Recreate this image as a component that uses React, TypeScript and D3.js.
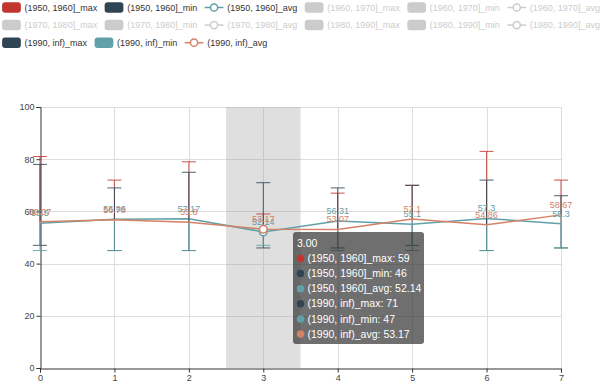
import React, { useEffect, useRef } from "react";
import * as d3 from "d3";

// x categories and y ticks
const categories = [0, 1, 2, 3, 4, 5, 6, 7];
const yTicks = [0, 20, 40, 60, 80, 100];

// legend groups (only two are switched on)
const groups = ["(1950, 1960]", "(1960, 1970]", "(1970, 1980]", "(1980, 1990]", "(1990, inf)"];
const activeGroups = ["(1950, 1960]", "(1990, inf)"];

// (1950, 1960]
const max1950 = [81, 72, 79, 59, 67, 70, 83, 72];
const min1950 = [47, 45, 45, 46, 46, 47, 45, 46];
const avg1950 = [55.5, 56.96, 57.17, 52.14, 56.31, 55.1, 57.3, 55.3];
// (1990, inf)
const max1990 = [78, 69, 75, 71, 69, 70, 72, 66];
const min1990 = [45, 45, 45, 47, 45, 45, 45, 46];
const avg1990 = [56.07, 56.78, 55.8, 53.17, 53.07, 57.1, 54.86, 58.67];

const hoverIndex = 3;

const palette = ["#c23531", "#2f4554", "#61a0a8", "#d48265", "#91c7ae", "#749f83", "#ca8622", "#bda29a", "#6e7074", "#546570", "#c4ccd3"];

const W = 602;
const H = 388;
const FONT = "'Liberation Sans', Arial, sans-serif";

function App() {
    const svgRef = useRef(null);

    useEffect(() => {
        const svg = d3.select(svgRef.current);
        svg.selectAll("*").remove();

        // series list like the chart lib would build it
        const values = {
            "(1950, 1960]": { max: max1950, min: min1950, avg: avg1950 },
            "(1990, inf)": { max: max1990, min: min1990, avg: avg1990 },
        };
        const series = [];
        groups.forEach((g, gi) => {
            ["max", "min", "avg"].forEach((k, ki) => {
                series.push({
                    name: g + "_" + k,
                    kind: k,
                    group: g,
                    color: palette[(gi * 3 + ki) % palette.length],
                    active: activeGroups.includes(g),
                    data: values[g] ? values[g][k] : null,
                });
            });
        });

        // ---- legend
        const canvas = document.createElement("canvas");
        const ctx = canvas.getContext("2d");
        ctx.font = "9px " + FONT;
        const iconW = 18.75, iconH = 10.5, gap = 7.5, pad = 3.75;
        const maxW = W - 2;
        const rows = [[]];
        let rowW = 0;
        series.forEach((s) => {
            const w = iconW + pad + ctx.measureText(s.name).width;
            const extra = rows[rows.length - 1].length ? gap + w : w;
            if (rowW + extra > maxW && rows[rows.length - 1].length) {
                rows.push([]);
                rowW = w;
            } else {
                rowW += extra;
            }
            rows[rows.length - 1].push({ s, w });
        });
        const rowWidths = rows.map((r) => d3.sum(r, (d) => d.w) + gap * (r.length - 1));
        const legendX = Math.max(2, (W - d3.max(rowWidths)) / 2);
        const legend = svg.append("g");
        rows.forEach((r, ri) => {
            let x = legendX;
            const cy = 7.5 + ri * 17.6;
            r.forEach(({ s, w }) => {
                const c = s.active ? s.color : "#ccc";
                if (s.kind == "avg") {
                    legend.append("line")
                        .attr("x1", x).attr("x2", x + iconW)
                        .attr("y1", cy).attr("y2", cy)
                        .attr("stroke", c).attr("stroke-width", 1.5);
                    legend.append("circle")
                        .attr("cx", x + iconW / 2).attr("cy", cy).attr("r", 3.6)
                        .attr("fill", "#fff").attr("stroke", c).attr("stroke-width", 1.5);
                } else {
                    legend.append("rect")
                        .attr("x", x).attr("y", cy - iconH / 2)
                        .attr("width", iconW).attr("height", iconH)
                        .attr("rx", 3).attr("fill", c);
                }
                legend.append("text")
                    .attr("x", x + iconW + pad).attr("y", cy)
                    .attr("dy", "0.35em")
                    .attr("font-size", 9).attr("font-family", FONT)
                    .attr("fill", s.active ? "#333" : "#ccc")
                    .text(s.name);
                x += w + gap;
            });
        });

        // ---- scales
        const xScale = d3.scalePoint().domain(categories).range([40, 561]);
        const yScale = d3.scaleLinear().domain([0, 100]).range([368, 107]);
        const step = xScale.step();

        // grid
        svg.append("g").selectAll("line.h")
            .data(yTicks.filter((t) => t != 0))
            .join("line")
            .attr("x1", 40).attr("x2", 561)
            .attr("y1", (t) => Math.round(yScale(t)) + 0.5).attr("y2", (t) => Math.round(yScale(t)) + 0.5)
            .attr("stroke", "#ddd");
        svg.append("g").selectAll("line.v")
            .data(categories.filter((c) => c != 0))
            .join("line")
            .attr("x1", (c) => Math.round(xScale(c)) + 0.5).attr("x2", (c) => Math.round(xScale(c)) + 0.5)
            .attr("y1", 107).attr("y2", 368)
            .attr("stroke", "#ddd");

        // axis pointer shadow
        svg.append("rect")
            .attr("x", xScale(categories[hoverIndex]) - step / 2)
            .attr("y", 107)
            .attr("width", step)
            .attr("height", 368 - 107)
            .attr("fill", "rgba(150,150,150,0.3)");

        // axes
        const yAxis = d3.axisLeft(yScale).tickValues(yTicks).tickSize(4).tickPadding(2);
        const gy = svg.append("g").attr("transform", "translate(40.5,0)").call(yAxis);
        const xAxis = d3.axisBottom(xScale).tickSize(4).tickPadding(2);
        const gx = svg.append("g").attr("transform", "translate(0,368.5)").call(xAxis);
        [gx, gy].forEach((g) => {
            g.select(".domain").attr("stroke", "#333");
            g.selectAll(".tick line").attr("stroke", "#333");
            g.selectAll(".tick text").attr("fill", "#444").attr("font-size", 9).attr("font-family", FONT);
        });

        // error bars: line from the group's avg to the value, with a cap
        const shown = series.filter((s) => s.active && s.data);
        const avgOf = (g) => shown.find((s) => s.group == g && s.kind == "avg").data;
        shown.forEach((s) => {
            if (s.kind == "avg") {
                const line = d3.line()
                    .x((d, i) => xScale(categories[i]))
                    .y((d) => yScale(d));
                svg.append("path")
                    .datum(s.data)
                    .attr("d", line)
                    .attr("fill", "none")
                    .attr("stroke", s.color)
                    .attr("stroke-width", 1.5);
                return;
            }
            const avg = avgOf(s.group);
            const g = svg.append("g").attr("stroke", s.color).attr("stroke-width", 1).attr("opacity", 0.85);
            g.selectAll("line.stem")
                .data(s.data)
                .join("line")
                .attr("x1", (d, i) => xScale(categories[i])).attr("x2", (d, i) => xScale(categories[i]))
                .attr("y1", (d, i) => yScale(avg[i])).attr("y2", (d) => yScale(d));
            g.selectAll("line.cap")
                .data(s.data)
                .join("line")
                .attr("x1", (d, i) => xScale(categories[i]) - 7).attr("x2", (d, i) => xScale(categories[i]) + 7)
                .attr("y1", (d) => yScale(d)).attr("y2", (d) => yScale(d));
        });

        // hover symbols and labels
        const avgSeries = shown.filter((s) => s.kind == "avg");
        avgSeries.forEach((s) => {
            svg.append("circle")
                .attr("cx", xScale(categories[hoverIndex]))
                .attr("cy", yScale(s.data[hoverIndex]))
                .attr("r", 3.8)
                .attr("fill", "#fff")
                .attr("stroke", s.color)
                .attr("stroke-width", 1.5);
        });
        avgSeries.forEach((s) => {
            svg.append("g").selectAll("text")
                .data(s.data)
                .join("text")
                .attr("x", (d, i) => xScale(categories[i]))
                .attr("y", (d) => yScale(d) - 7)
                .attr("text-anchor", "middle")
                .attr("font-size", 9)
                .attr("font-family", FONT)
                .attr("fill", s.color)
                .text((d) => d);
        });

        // tooltip
        const tipX = 293, tipY = 232;
        const tip = svg.append("g").attr("transform", `translate(${tipX},${tipY})`);
        tip.append("rect")
            .attr("width", 131).attr("height", 112).attr("rx", 3)
            .attr("fill", "rgba(50,50,50,0.7)");
        tip.append("text")
            .attr("x", 4).attr("y", 11).attr("dy", "0.35em")
            .attr("font-size", 10.5).attr("font-family", FONT).attr("fill", "#fff")
            .text(categories[hoverIndex].toFixed(2));
        shown.forEach((s, i) => {
            const cy = 26.5 + i * 15.1;
            tip.append("circle").attr("cx", 7.5).attr("cy", cy).attr("r", 3.75).attr("fill", s.color);
            tip.append("text")
                .attr("x", 14.5).attr("y", cy).attr("dy", "0.35em")
                .attr("font-size", 10.5).attr("font-family", FONT).attr("fill", "#fff")
                .text(s.name + ": " + s.data[hoverIndex]);
        });
    }, []);

    return (
        <svg ref={svgRef} width={W} height={H} style={{ position: "absolute", left: 0, top: 0, background: "#fff" }}></svg>
    );
}

export default App;
